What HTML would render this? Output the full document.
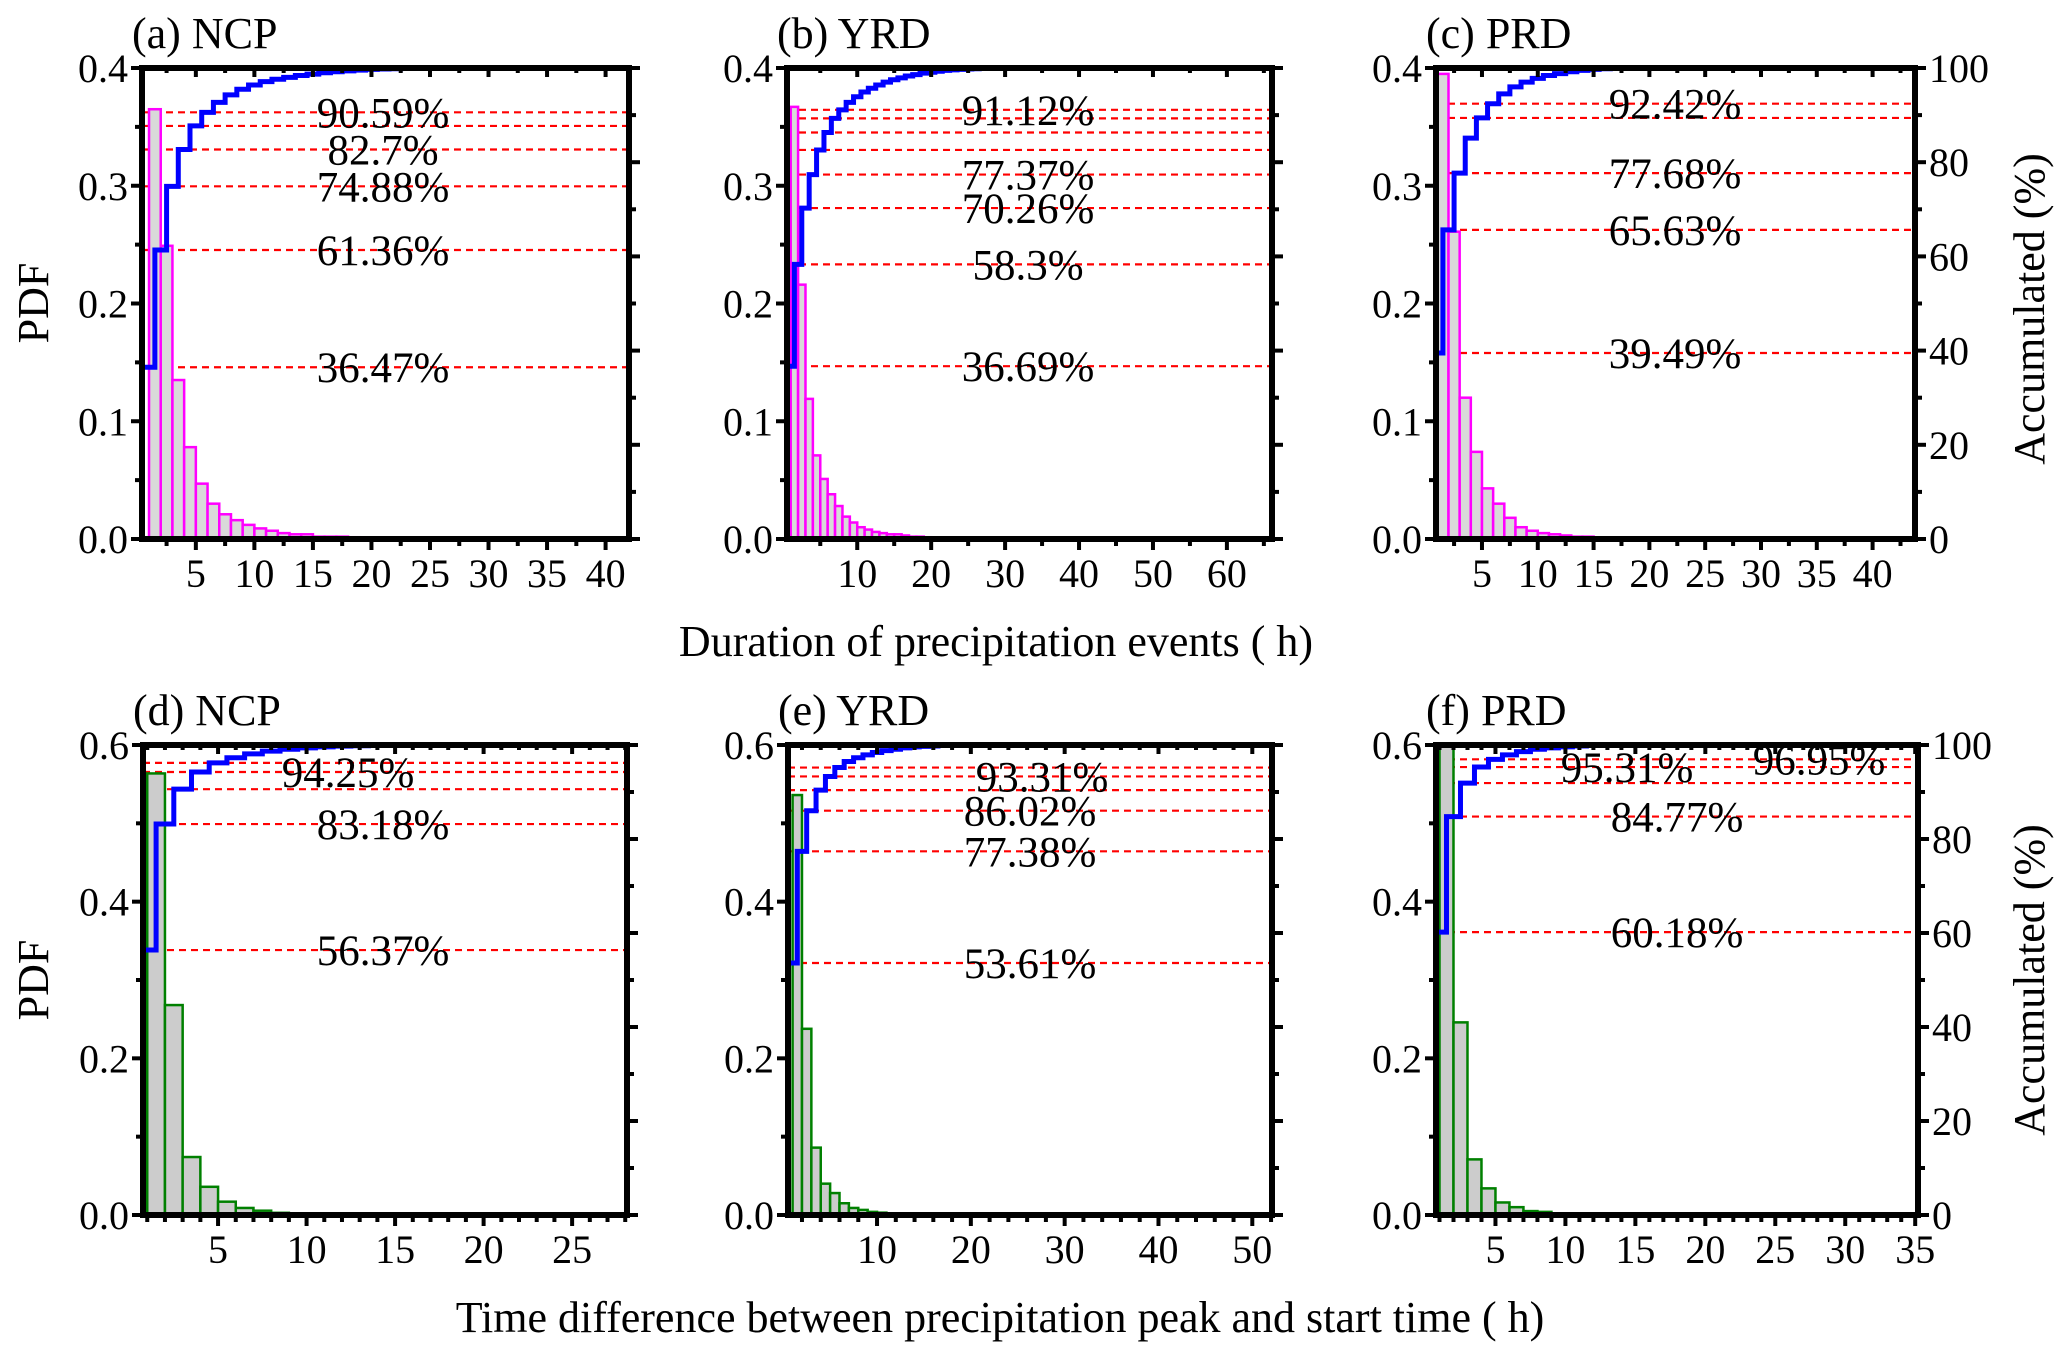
<!DOCTYPE html>
<html><head><meta charset="utf-8">
<style>
html,body{margin:0;padding:0;background:#fff;}
svg{display:block;font-family:"Liberation Serif","DejaVu Serif",serif;}
</style></head>
<body>
<svg id="chart" xmlns="http://www.w3.org/2000/svg" width="2067" height="1354" viewBox="0 0 2067 1354">
<rect x="0" y="0" width="2067" height="1354" fill="#fff"/>
<text x="996" y="656" font-size="44" text-anchor="middle">Duration of precipitation events ( h)</text>
<text x="1000" y="1332" font-size="44" text-anchor="middle">Time difference between precipitation peak and start time ( h)</text>
<text transform="translate(48,303) rotate(-90)" font-size="44" text-anchor="middle">PDF</text>
<text transform="translate(48,980) rotate(-90)" font-size="44" text-anchor="middle">PDF</text>
<text transform="translate(2044,309) rotate(-90)" font-size="44" text-anchor="middle">Accumulated (%)</text>
<text transform="translate(2044,980) rotate(-90)" font-size="44" text-anchor="middle">Accumulated (%)</text>
</svg>
<script>
// ---------- data ----------
const aPdf = [0.365,0.249,0.135,0.078,0.047,0.030,0.021,0.016,0.012,0.009,0.007,0.005,0.004,0.004,0.002,0.002,0.002,0.0015,0.001];
const aCum = [36.47,61.36,74.88,82.7,87.7,90.59,92.7,94.3,95.5,96.4,97.1,97.6,98.0,98.4,98.7,99.0,99.2,99.4,99.55,99.7,99.8,99.85,99.9,99.95,100];
const aLines = [36.47,61.36,74.88,82.7,87.7,90.59];
const bPdf = [0.367,0.216,0.119,0.071,0.051,0.038,0.028,0.019,0.014,0.010,0.008,0.006,0.005,0.004,0.004,0.003,0.002,0.002,0.0015,0.001,0.001,0.0008,0.0005];
const bCum = [36.69,58.3,70.26,77.37,82.6,86.3,89.3,91.12,92.7,93.9,94.9,95.7,96.4,97.0,97.5,97.9,98.3,98.6,98.9,99.1,99.3,99.5,99.6,99.7,99.8,99.85,99.9,99.95,100,100,100,100,100,100,100,100,100,100,100,100];
const bLines = [36.69,58.3,70.26,77.37,82.6,86.3,89.3,91.12];
const cPdf = [0.395,0.261,0.120,0.074,0.043,0.030,0.018,0.010,0.007,0.005,0.004,0.003,0.002,0.002,0.0012,0.001,0.0008];
const cCum = [39.49,65.63,77.68,85.1,89.4,92.42,94.5,96.0,97.0,97.8,98.4,98.8,99.2,99.5,99.7,99.85,99.95,100,100,100];
const cLines = [39.49,65.63,77.68,89.4,92.42];
const dPdf = [0.5637,0.268,0.074,0.036,0.017,0.009,0.0055,0.0028,0.0013,0.0008];
const dCum = [56.37,83.18,90.6,94.25,96.2,97.3,98.1,98.7,99.1,99.4,99.6,99.75,99.85,99.9,99.95,100,100,100];
const dLines = [56.37,83.18,90.6,94.25,96.2];
const ePdf = [0.5361,0.2377,0.086,0.040,0.028,0.015,0.009,0.0065,0.004,0.003,0.002,0.0015,0.001,0.001,0.0006];
const eCum = [53.61,77.38,86.02,90.4,93.31,95.2,96.5,97.3,97.9,98.4,98.8,99.1,99.4,99.6,99.7,99.8,99.9,99.95,100,100,100];
const eLines = [53.61,77.38,86.02,90.4,93.31,95.2];
const fPdf = [0.6018,0.2459,0.071,0.034,0.016,0.010,0.005,0.004];
const fCum = [60.18,84.77,91.9,95.31,96.95,97.9,98.6,99.1,99.4,99.6,99.8,99.9,100,100];
const fLines = [60.18,84.77,91.9,95.31,96.95];

const xTicksA = [5,10,15,20,25,30,35,40];
const xTicksB = [10,20,30,40,50,60];
const xTicksC = [5,10,15,20,25,30,35,40];
const xTicksD = [5,10,15,20,25];
const xTicksE = [10,20,30,40,50];
const xTicksF = [5,10,15,20,25,30,35];
const yTicksTop = [0.0,0.1,0.2,0.3,0.4];
const yTickLabelsTop = ["0.0","0.1","0.2","0.3","0.4"];
const yTicksBottom = [0.0,0.2,0.4,0.6];
const yTickLabelsBottom = ["0.0","0.2","0.4","0.6"];
const accTicks = [0,20,40,60,80,100];

const aLabels = ["90.59%","82.7%","74.88%","61.36%","36.47%"];
const aLabelVals = [90.59,82.7,74.88,61.36,36.47];
const bLabels = ["91.12%","77.37%","70.26%","58.3%","36.69%"];
const bLabelVals = [91.12,77.37,70.26,58.3,36.69];
const cLabels = ["92.42%","77.68%","65.63%","39.49%"];
const cLabelVals = [92.42,77.68,65.63,39.49];
const dLabels = ["94.25%","83.18%","56.37%"];
const dLabelVals = [94.25,83.18,56.37];
const eLabels = ["93.31%","86.02%","77.38%","53.61%"];
const eLabelVals = [93.31,86.02,77.38,53.61];
const fLabels = ["95.31%","96.95%","84.77%","60.18%"];
const fLabelVals = [95.31,96.95,84.77,60.18];

// ---------- layout ----------
const NS = "http://www.w3.org/2000/svg";
const svg = document.getElementById('chart');
function mk(tag, a, parent){const e=document.createElementNS(NS,tag);for(const k in a)e.setAttribute(k,a[k]);(parent||svg).appendChild(e);return e;}

const panels = [
 {id:'a',title:'(a) NCP',L:142,R:629,T:68,B:539,xmin:0.4,xmax:42.0,ymax:0.4,pdf:aPdf,cum:aCum,lines:aLines,xt:xTicksA,xminor:2.5,yt:yTicksTop,ytl:yTickLabelsTop,yminor:0.05,labs:aLabels,labv:aLabelVals,labx:[383,383,383,383,383],stroke:'#ff00ff',fill:'#d9d9d9',rightLab:false},
 {id:'b',title:'(b) YRD',L:787,R:1272,T:68,B:539,xmin:0.5,xmax:66.1,ymax:0.4,pdf:bPdf,cum:bCum,lines:bLines,xt:xTicksB,xminor:5,yt:yTicksTop,ytl:yTickLabelsTop,yminor:0.05,labs:bLabels,labv:bLabelVals,labx:[1028,1028,1028,1028,1028],stroke:'#ff00ff',fill:'#d9d9d9',rightLab:false},
 {id:'c',title:'(c) PRD',L:1436,R:1915,T:68,B:539,xmin:0.88,xmax:43.8,ymax:0.4,pdf:cPdf,cum:cCum,lines:cLines,xt:xTicksC,xminor:2.5,yt:yTicksTop,ytl:yTickLabelsTop,yminor:0.05,labs:cLabels,labv:cLabelVals,labx:[1675,1675,1675,1675],stroke:'#ff00ff',fill:'#d9d9d9',rightLab:true},
 {id:'d',title:'(d) NCP',L:143,R:627,T:745,B:1215,xmin:0.76,xmax:28.1,ymax:0.6,pdf:dPdf,cum:dCum,lines:dLines,xt:xTicksD,xminor:1,yt:yTicksBottom,ytl:yTickLabelsBottom,yminor:0.1,labs:dLabels,labv:dLabelVals,labx:[348,383,383],stroke:'#008000',fill:'#cccccc',rightLab:false},
 {id:'e',title:'(e) YRD',L:788,R:1272,T:745,B:1215,xmin:0.51,xmax:52.1,ymax:0.6,pdf:ePdf,cum:eCum,lines:eLines,xt:xTicksE,xminor:2,yt:yTicksBottom,ytl:yTickLabelsBottom,yminor:0.1,labs:eLabels,labv:eLabelVals,labx:[1042,1030,1030,1030],stroke:'#008000',fill:'#cccccc',rightLab:false},
 {id:'f',title:'(f) PRD',L:1436,R:1918,T:745,B:1215,xmin:0.75,xmax:35.2,ymax:0.6,pdf:fPdf,cum:fCum,lines:fLines,xt:xTicksF,xminor:1,yt:yTicksBottom,ytl:yTickLabelsBottom,yminor:0.1,labs:fLabels,labv:fLabelVals,labx:[1627,1819,1677,1677],stroke:'#008000',fill:'#cccccc',rightLab:true}
];

panels.forEach(p=>{
  const sx=v=>p.L+(v-p.xmin)/(p.xmax-p.xmin)*(p.R-p.L);
  const sy=v=>p.B-v/p.ymax*(p.B-p.T);
  const sc=v=>p.B-v/100*(p.B-p.T);
  const g=mk('g',{});
  
  
  const defs=mk('defs',{},g);
  const cp=mk('clipPath',{id:'clip-'+p.id},defs);
  mk('rect',{x:p.L,y:p.T,width:p.R-p.L,height:p.B-p.T},cp);
  const plot=mk('g',{'clip-path':'url(#clip-'+p.id+')'},g);
  
  
  p.lines.forEach(v=>{
    const l=mk('line',{x1:p.L,x2:p.R,y1:sc(v),y2:sc(v),stroke:'#ff0000','stroke-width':2.2,'stroke-dasharray':'7 5'},plot);
    
    
  });
  p.pdf.forEach((v,i)=>{
    const x0=sx(i+1), x1=sx(i+2);
    const r=mk('rect',{x:x0,y:sy(v),width:x1-x0,height:p.B-sy(v),fill:p.fill,stroke:p.stroke,'stroke-width':2.5},plot);
    
    
  });
  let d='M'+p.L+','+sc(p.cum[0]);
  p.cum.forEach((v,i)=>{
    if(i>0) d+=' V'+sc(v);
    d+=' H'+sx(i+1.5);
  });
  const path=mk('path',{d:d,fill:'none',stroke:'#0000ff','stroke-width':5},plot);
  
  
  p.labs.forEach((t,i)=>{
    const tx=mk('text',{x:p.labx[i],y:sc(p.labv[i])+15,'font-size':43,'text-anchor':'middle',fill:'#000'},g);
    tx.textContent=t;
    
    
  });
  const tk=mk('g',{stroke:'#000'},g);
  
  
  for(let v=Math.ceil(p.xmin/p.xminor)*p.xminor; v<=p.xmax+1e-6; v+=p.xminor){
    const major=p.xt.some(t=>Math.abs(t-v)<1e-6);
    const x=sx(v), len=major?11:7;
    mk('line',{x1:x,x2:x,y1:p.B,y2:p.B+len,'stroke-width':4},tk);
    mk('line',{x1:x,x2:x,y1:p.T,y2:p.T+len-2,'stroke-width':4},tk);
  }
  for(let v=0; v<=p.ymax+1e-6; v+=p.yminor){
    const major=p.yt.some(t=>Math.abs(t-v)<1e-6);
    const len=major?11:7;
    mk('line',{x1:p.L-len,x2:p.L,y1:sy(v),y2:sy(v),'stroke-width':4},tk);
  }
  for(let v=0; v<=100; v+=10){
    const major=accTicks.indexOf(v)>=0;
    const len=major?11:7;
    mk('line',{x1:p.R,x2:p.R+len,y1:sc(v),y2:sc(v),'stroke-width':4},tk);
  }
  const fr=mk('rect',{x:p.L,y:p.T,width:p.R-p.L,height:p.B-p.T,fill:'none',stroke:'#000','stroke-width':6},g);
  
  
  p.xt.forEach(v=>{
    const t=mk('text',{x:sx(v),y:p.B+48,'font-size':40,'text-anchor':'middle'},g);
    t.textContent=String(v);
    
    
  });
  p.yt.forEach((v,i)=>{
    const t=mk('text',{x:p.L-14,y:sy(v)+14,'font-size':40,'text-anchor':'end'},g);
    t.textContent=p.ytl[i];
    
    
  });
  if(p.rightLab){
    accTicks.forEach(v=>{
      const t=mk('text',{x:p.R+14,y:sc(v)+14,'font-size':40,'text-anchor':'start'},g);
      t.textContent=String(v);
      
      
    });
  }
  const ti=mk('text',{x:p.L-10,y:p.T-20,'font-size':44},g);
  ti.textContent=p.title;
  
  
});
</script>
</body></html>
